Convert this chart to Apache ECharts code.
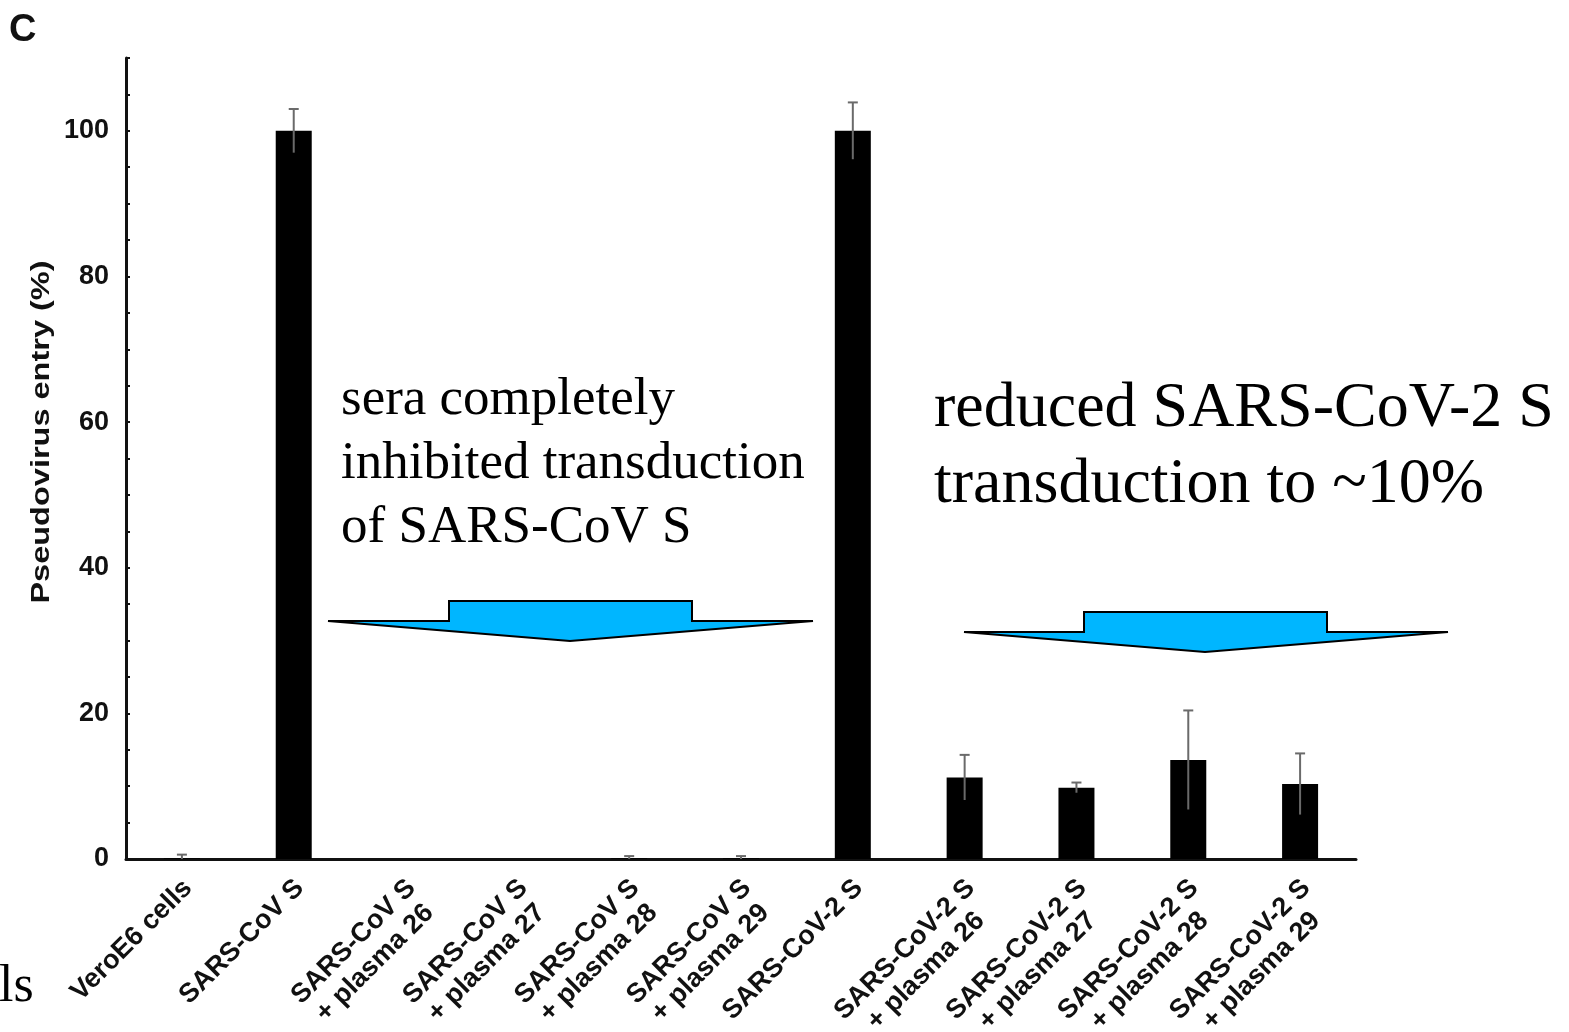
<!DOCTYPE html>
<html>
<head>
<meta charset="utf-8">
<script src="https://cdn.jsdelivr.net/npm/echarts@6/dist/echarts.min.js"></script>
<style>
  html, body { margin: 0; padding: 0; background: #fff; }
  #chart { width: 1569px; height: 1032px; }
</style>
</head>
<body>
<div id="chart"></div>
<script>
// Pseudovirus entry (%) per condition, mean and error (SD)
const categories = [
  'VeroE6 cells',
  'SARS-CoV S',
  'SARS-CoV S\n+ plasma 26',
  'SARS-CoV S\n+ plasma 27',
  'SARS-CoV S\n+ plasma 28',
  'SARS-CoV S\n+ plasma 29',
  'SARS-CoV-2 S',
  'SARS-CoV-2 S\n+ plasma 26',
  'SARS-CoV-2 S\n+ plasma 27',
  'SARS-CoV-2 S\n+ plasma 28',
  'SARS-CoV-2 S\n+ plasma 29'
];
const entryMean = [0.1, 100, 0, 0, 0.1, 0.1, 100, 11.2, 9.8, 13.6, 10.3];
const entryError = [0.5, 3.0, 0, 0, 0.3, 0.3, 3.9, 3.1, 0.7, 6.8, 4.2];
const yTickLabels = [0, 20, 40, 60, 80, 100];

const FONT = '"Liberation Sans", Arial, sans-serif';
const SERIF = '"Liberation Serif", "Times New Roman", serif';

// category label styling (two-line labels are centred line by line)
const LABEL_SIZE = 27;
const LABEL_LINE = 30;
const measureCtx = document.createElement('canvas').getContext('2d');
measureCtx.font = 'bold ' + LABEL_SIZE + 'px ' + FONT;

const chart = echarts.init(document.getElementById('chart'), null, { renderer: 'canvas' });

const errorData = entryMean.map((v, i) => [i, v, entryError[i]]);
const labelData = categories.map((c, i) => [i, 0]);

const R = Math.SQRT1_2;

chart.setOption({
  animation: false,
  backgroundColor: '#ffffff',
  grid: { left: 126, right: 213, top: 58, bottom: 173, containLabel: false },
  xAxis: {
    type: 'category',
    data: categories,
    boundaryGap: true,
    axisLine: { lineStyle: { color: '#111', width: 3 } },
    axisTick: { show: false },
    axisLabel: { show: false },
    splitLine: { show: false }
  },
  yAxis: {
    type: 'value',
    min: 0,
    max: 110,
    interval: 5,
    axisLine: { show: true, lineStyle: { color: '#111', width: 3 } },
    axisTick: { show: true, inside: true, length: 4, lineStyle: { color: '#111', width: 2 } },
    axisLabel: {
      margin: 17,
      color: '#111',
      fontFamily: FONT,
      fontWeight: 'bold',
      fontSize: 27,
      formatter: v => (yTickLabels.indexOf(v) >= 0 ? String(v) : '')
    },
    splitLine: { show: false }
  },
  series: [
    {
      type: 'bar',
      data: entryMean,
      barWidth: 36,
      itemStyle: { color: '#000' },
      z: 2
    },
    {
      type: 'custom',
      data: errorData,
      z: 3,
      renderItem: function (params, api) {
        const idx = api.value(0);
        const mean = api.value(1);
        const err = api.value(2);
        if (!err) return null;
        const top = api.coord([idx, mean + err]);
        const bot = api.coord([idx, Math.max(0, mean - err)]);
        const capHalf = 5;
        return {
          type: 'group',
          children: [
            {
              type: 'line',
              shape: { x1: top[0], y1: top[1], x2: bot[0], y2: bot[1] },
              style: { stroke: '#6a6a6a', lineWidth: 2 }
            },
            {
              type: 'line',
              shape: { x1: top[0] - capHalf, y1: top[1], x2: top[0] + capHalf, y2: top[1] },
              style: { stroke: '#6a6a6a', lineWidth: 2 }
            }
          ]
        };
      }
    },
    {
      // rotated category labels under the axis
      type: 'custom',
      data: labelData,
      clip: false,
      silent: true,
      z: 4,
      renderItem: function (params, api) {
        const idx = api.value(0);
        const p = api.coord([idx, 0]);
        const text = categories[idx];
        const lines = text.split('\n');
        const w = Math.max.apply(null, lines.map(l => measureCtx.measureText(l).width));
        // right-middle point of the first line
        const ax = p[0] + 6;
        const ay = p[1] + 25;
        // top-centre of the rotated text block
        const x = ax - R * LABEL_LINE / 2 - R * w / 2;
        const y = ay - R * LABEL_LINE / 2 + R * w / 2;
        return {
          type: 'text',
          x: x,
          y: y,
          rotation: Math.PI / 4,
          style: {
            text: text,
            fontFamily: FONT,
            fontWeight: 'bold',
            fontSize: LABEL_SIZE,
            lineHeight: LABEL_LINE,
            fill: '#111',
            align: 'center',
            verticalAlign: 'top'
          }
        };
      }
    }
  ],
  graphic: [
    // panel letter
    {
      type: 'text', left: 9, top: 12,
      style: { text: 'C', fontFamily: FONT, fontWeight: 'bold', fontSize: 38, fill: '#111' }
    },
    // y axis title
    {
      type: 'text', x: 42, y: 432, rotation: Math.PI / 2, scaleX: 1.25,
      style: {
        text: 'Pseudovirus entry (%)', fontFamily: FONT, fontWeight: 'bold', fontSize: 26, fill: '#111',
        align: 'center', verticalAlign: 'middle'
      }
    },
    // fragment of neighbouring panel text
    {
      type: 'text', x: -1, y: 1013,
      style: { text: 'ls', font: '52px ' + SERIF, fill: '#000', verticalAlign: 'bottom' }
    },
    // left annotation
    {
      type: 'text', x: 341, y: 400,
      style: { text: 'sera completely', font: '53px ' + SERIF, fill: '#000', verticalAlign: 'middle' }
    },
    {
      type: 'text', x: 341, y: 464,
      style: { text: 'inhibited transduction', font: '53px ' + SERIF, fill: '#000', verticalAlign: 'middle' }
    },
    {
      type: 'text', x: 341, y: 528,
      style: { text: 'of SARS-CoV S', font: '53px ' + SERIF, fill: '#000', verticalAlign: 'middle' }
    },
    // right annotation
    {
      type: 'text', x: 934, y: 409,
      style: { text: 'reduced SARS-CoV-2 S', font: '64px ' + SERIF, fill: '#000', verticalAlign: 'middle' }
    },
    {
      type: 'text', x: 934, y: 485,
      style: { text: 'transduction to ~10%', font: '64px ' + SERIF, fill: '#000', verticalAlign: 'middle' }
    },
    // block arrows
    {
      type: 'polygon',
      shape: { points: [[328, 621], [449, 621], [449, 601], [692, 601], [692, 621], [813, 621], [570, 641]] },
      style: { fill: '#00b6ff', stroke: '#000', lineWidth: 2 }
    },
    {
      type: 'polygon',
      shape: { points: [[964, 632], [1084, 632], [1084, 612], [1327, 612], [1327, 632], [1448, 632], [1205, 652]] },
      style: { fill: '#00b6ff', stroke: '#000', lineWidth: 2 }
    }
  ]
});
</script>
</body>
</html>
